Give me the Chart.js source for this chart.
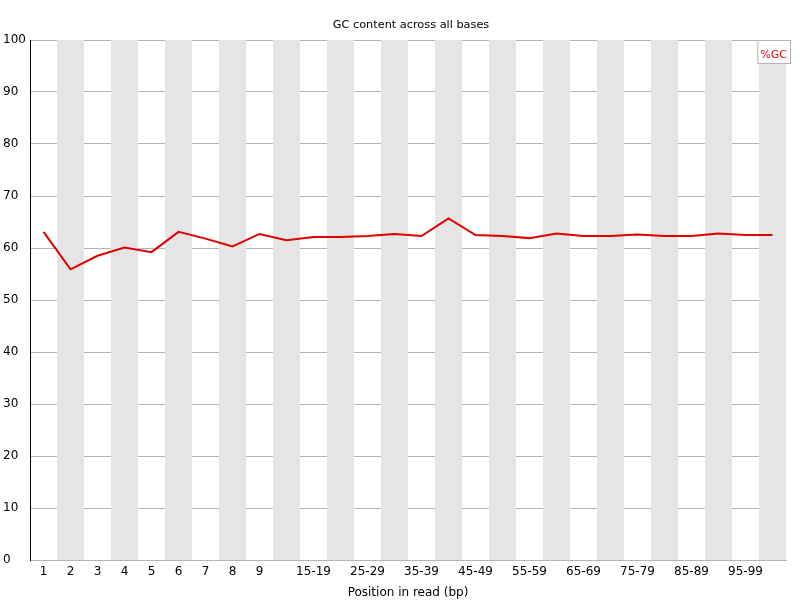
<!DOCTYPE html>
<html>
<head>
<meta charset="utf-8">
<script src="https://cdn.jsdelivr.net/npm/chart.js@4"></script>
<style>
  body { margin: 0; background: #fff; }
  #wrap { width: 800px; height: 600px; }
</style>
</head>
<body>
<div id="wrap"><canvas id="gcChart" width="800" height="600"></canvas></div>
<script>
const positions = ["1", "2", "3", "4", "5", "6", "7", "8", "9",
  "10-14", "15-19", "20-24", "25-29", "30-34", "35-39", "40-44", "45-49",
  "50-54", "55-59", "60-64", "65-69", "70-74", "75-79", "80-84", "85-89",
  "90-94", "95-99", "100-101"];
const hiddenLabels = ["10-14", "20-24", "30-34", "40-44", "50-54", "60-64",
  "70-74", "80-84", "90-94", "100-101"];
const gcValues = [63.1, 55.9, 58.5, 60.1, 59.2, 63.1, 61.8, 60.3, 62.7,
  61.5, 62.1, 62.1, 62.3, 62.7, 62.3, 65.7, 62.5, 62.3, 61.9, 62.8,
  62.3, 62.3, 62.6, 62.3, 62.3, 62.8, 62.5, 62.5];
const yTicks = [0, 10, 20, 30, 40, 50, 60, 70, 80, 90, 100];

const FONT = "DejaVu Sans";

// alternating grey bands behind the line, one per category
const bandPlugin = {
  id: "bands",
  beforeDatasetsDraw(chart) {
    const { ctx, chartArea, scales } = chart;
    const x = scales.x;
    const half = (chartArea.right - chartArea.left) / positions.length / 2;
    ctx.save();
    ctx.fillStyle = "#e5e5e5";
    positions.forEach((p, i) => {
      if (i % 2 === 1) {
        const c = x.getPixelForValue(i);
        ctx.fillRect(c - half, chartArea.top, half * 2, chartArea.bottom - chartArea.top);
      }
    });
    ctx.restore();
  }
};

// title centred on the plot, legend box in the top-right corner
const textPlugin = {
  id: "texts",
  afterDraw(chart) {
    const { ctx, chartArea } = chart;
    ctx.save();
    ctx.font = `11.3px "${FONT}"`;
    ctx.fillStyle = "#000";
    ctx.textAlign = "center";
    ctx.textBaseline = "middle";
    ctx.fillText("GC content across all bases", (chartArea.left + chartArea.right) / 2 + 3, 25);

    const ds = chart.data.datasets[0];
    ctx.font = `11px "${FONT}"`;
    const w = ctx.measureText(ds.label).width + 6;
    const bx = chartArea.right + 4 - w, by = chartArea.top;
    ctx.fillStyle = "#fff";
    ctx.fillRect(bx, by, w, 23);
    ctx.strokeStyle = "#b4b4b4";
    ctx.lineWidth = 1;
    ctx.strokeRect(bx + 0.5, by + 0.5, w, 23);
    ctx.fillStyle = ds.borderColor;
    ctx.textAlign = "left";
    ctx.fillText(ds.label, bx + 3, by + 15);
    ctx.restore();
  }
};

new Chart(document.getElementById("gcChart"), {
  type: "line",
  data: {
    labels: positions,
    datasets: [{
      label: "%GC",
      data: gcValues,
      borderColor: "#e00000",
      borderWidth: 2,
      pointRadius: 0,
      tension: 0,
      fill: false
    }]
  },
  options: {
    responsive: false,
    animation: false,
    layout: { padding: { top: 40, right: 14, left: 3, bottom: 0 } },
    plugins: {
      legend: { display: false },
      title: { display: false },
      tooltip: { enabled: false }
    },
    scales: {
      x: {
        type: "category",
        offset: true,
        grid: { display: false, drawTicks: false },
        border: { color: "#b4b4b4", width: 1 },
        ticks: {
          autoSkip: false,
          maxRotation: 0,
          color: "#000",
          padding: 5,
          font: { family: FONT, size: 12 },
          callback(v) {
            const l = positions[v];
            return hiddenLabels.includes(l) ? "" : l;
          }
        },
        title: {
          display: true,
          text: "Position in read (bp)",
          color: "#000",
          font: { family: FONT, size: 12 },
          padding: { top: 2, bottom: 0 }
        },
        afterFit(scale) { scale.height = 40; }
      },
      y: {
        min: 0,
        max: 100,
        afterBuildTicks(scale) { scale.ticks = yTicks.map(v => ({ value: v })); },
        grid: { color: "#b4b4b4", drawTicks: false, lineWidth: 1 },
        border: { color: "#000", width: 1 },
        ticks: {
          color: "#000",
          crossAlign: "far",
          padding: 4,
          font: { family: FONT, size: 12 }
        },
        afterFit(scale) { scale.width = 27; }
      }
    }
  },
  plugins: [bandPlugin, textPlugin]
});
</script>
</body>
</html>
